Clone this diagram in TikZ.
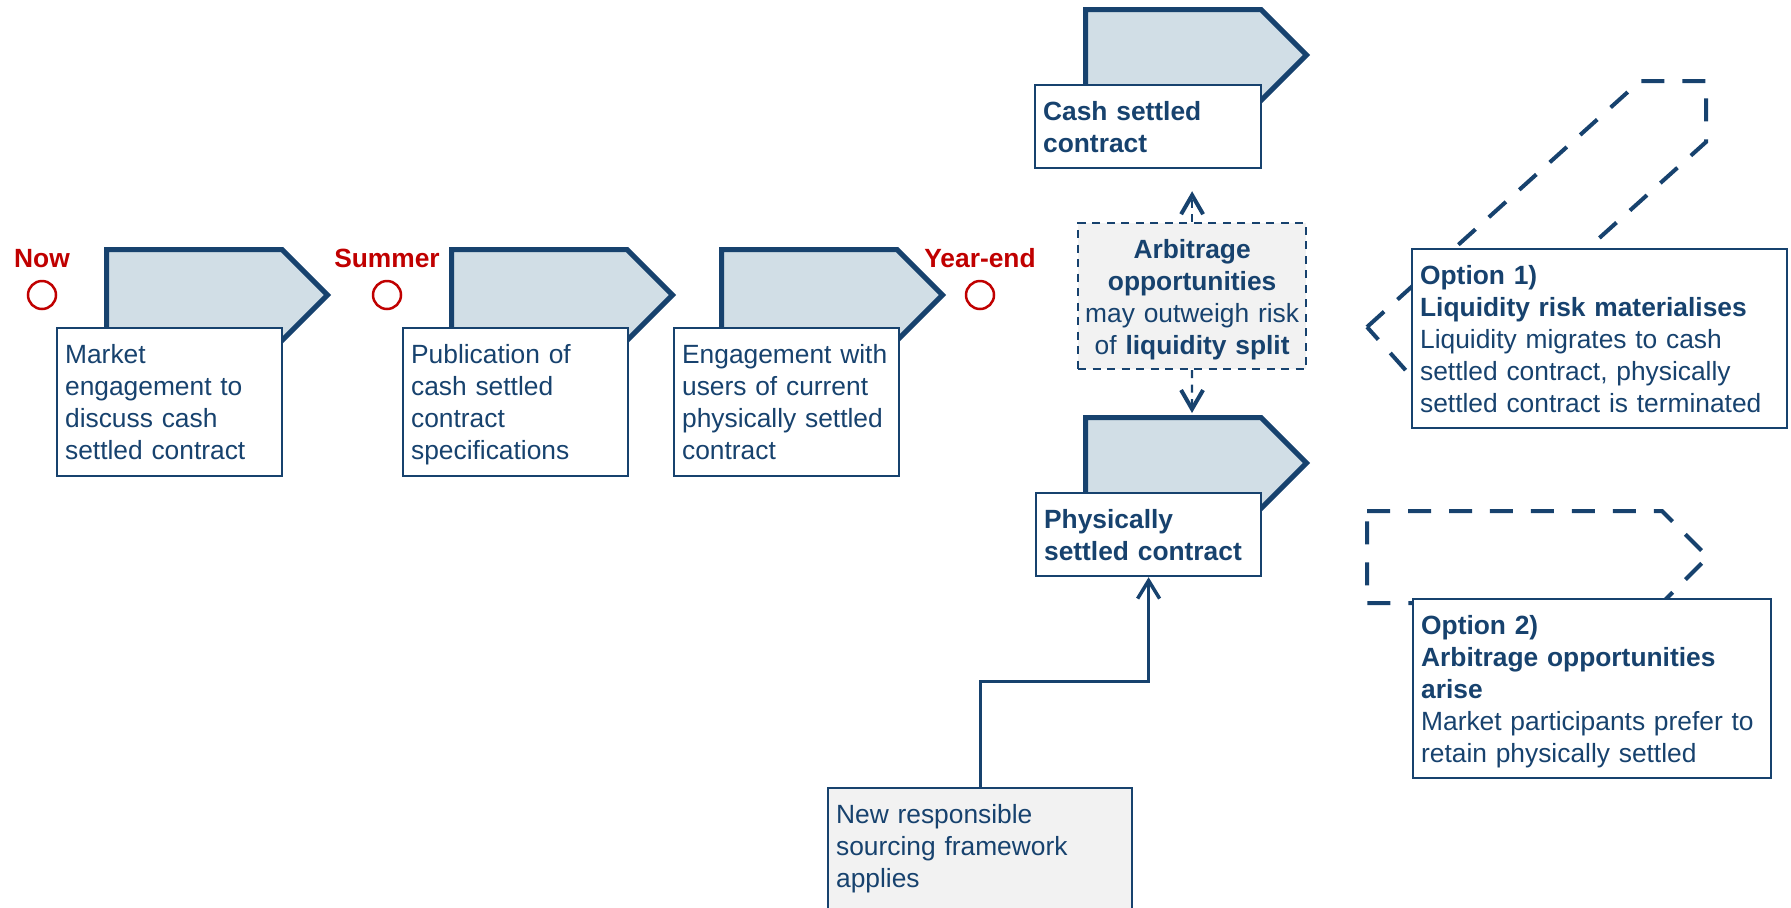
\documentclass[tikz,border=0pt]{standalone}
\usepackage{fontspec}
\setmainfont{Liberation Sans}
\setsansfont{Liberation Sans}
\usetikzlibrary{arrows.meta}
\definecolor{spnavy}{HTML}{17426E}
\definecolor{spfill}{HTML}{D1DEE6}
\definecolor{spgrey}{HTML}{F2F2F2}
\definecolor{spred}{HTML}{C00000}
\tikzset{
  phase/.style={draw=spnavy,fill=spfill,line width=.1cm,line join=miter},
  option/.style={draw=spnavy,line width=.08cm,dash pattern=on .46cm off .36cm},
  note/.style={rectangle,draw=spnavy,fill=white,line width=.045cm,anchor=north west,align=left,inner xsep=.16cm,inner ysep=0pt,text height=.7cm,text=spnavy,font={\fontsize{15}{18.2}\selectfont}},
  fact/.style={note,fill=spgrey},
  bridge/.style={note,fill=spgrey,dash pattern=on .16cm off .13cm,align=center,inner xsep=.08cm},
  stamp/.style={anchor=base,text=spred,font={\fontsize{15}{18.2}\selectfont\bfseries}},
  milestone/.style={circle,draw=spred,fill=white,line width=.05cm,minimum size=.56cm,inner sep=0pt},
  link/.style={draw=spnavy,line width=.06cm,-{Straight Barb[length=.36cm,width=.44cm,line width=.07cm]}},
  hint/.style={draw=spnavy,line width=.045cm,dash pattern=on .16cm off .13cm,-{Straight Barb[length=.38cm,width=.44cm,line width=.08cm]}},
}

\begin{document}
\begin{tikzpicture}[x=.02cm,y=-.02cm,font=\sffamily]
  \useasboundingbox (0,0) rectangle (1791,907);
  \clip (0,0) rectangle (1791,907);
  \foreach \px/\py in {106.5/249.5,451.5/249.5,721.5/249.5,1085.5/9.5,1085.5/417.5} {
    \draw[phase] (\px,\py) -- ++(175.5,0) -- ++(45.5,45.5) -- ++(-45.5,45.5) -- ++(-175.5,0) -- cycle;
  }
  \draw[option] (1367,327) -- (1640,81) -- (1706,81) -- (1706,142) -- (1426.5,393.5) -- cycle;
  \draw[option] (1367,511) -- (1662,511) -- (1708,557) -- (1662,603) -- (1367,603) -- cycle;
  \node[note,text width=4.18cm,text depth=2.26cm] (market) at (56,327) {Market\\engagement to\\discuss cash\\settled contract};
  \node[note,text width=4.18cm,text depth=2.26cm] (publish) at (402,327) {Publication of\\cash settled\\contract\\specifications};
  \node[note,text width=4.18cm,text depth=2.26cm] (engage) at (673,327) {Engagement with\\users of current\\physically settled\\contract};
  \node[note,text width=4.2cm,text depth=.96cm] (cash) at (1034,84) {\textbf{Cash settled}\\\textbf{contract}};
  \node[note,text width=4.18cm,text depth=.96cm] (phys) at (1035,492) {\textbf{Physically}\\\textbf{settled contract}};
  \node[bridge,text width=4.4cm,text depth=2.22cm] (arb) at (1077,222) {\textbf{Arbitrage}\\\textbf{opportunities}\\may outweigh risk\\of \textbf{liquidity split}};
  \node[note,text width=7.18cm,text depth=2.88cm] (opt1) at (1411,248) {\textbf{Option 1)}\\\textbf{Liquidity risk materialises}\\Liquidity migrates to cash\\settled contract, physically\\settled contract is terminated};
  \node[note,text width=6.84cm,text depth=2.88cm] (opt2) at (1412,598) {\textbf{Option 2)}\\\textbf{Arbitrage opportunities}\\\textbf{arise}\\Market participants prefer to\\retain physically settled};
  \node[fact,text width=5.76cm,text depth=2.54cm] (newbox) at (827,787) {New responsible\\sourcing framework\\applies};
  \foreach \nm/\px/\lab in {now/42/Now,summer/387/Summer,yearend/980/Year-end} {
    \node[stamp] (\nm) at (\px,267) {\lab};
    \node[milestone] (\nm dot) at (\px,295) {};
  }
  \coordinate (phystop) at (1192,413);
  \draw[hint,shorten >=.44cm] (arb.north) -- (arb.north |- cash.south);
  \draw[hint] (arb.south) -- (phystop);
  \draw[link] (newbox.north) -- ++(0,-106) -| (phys.south);
\end{tikzpicture}
\end{document}
